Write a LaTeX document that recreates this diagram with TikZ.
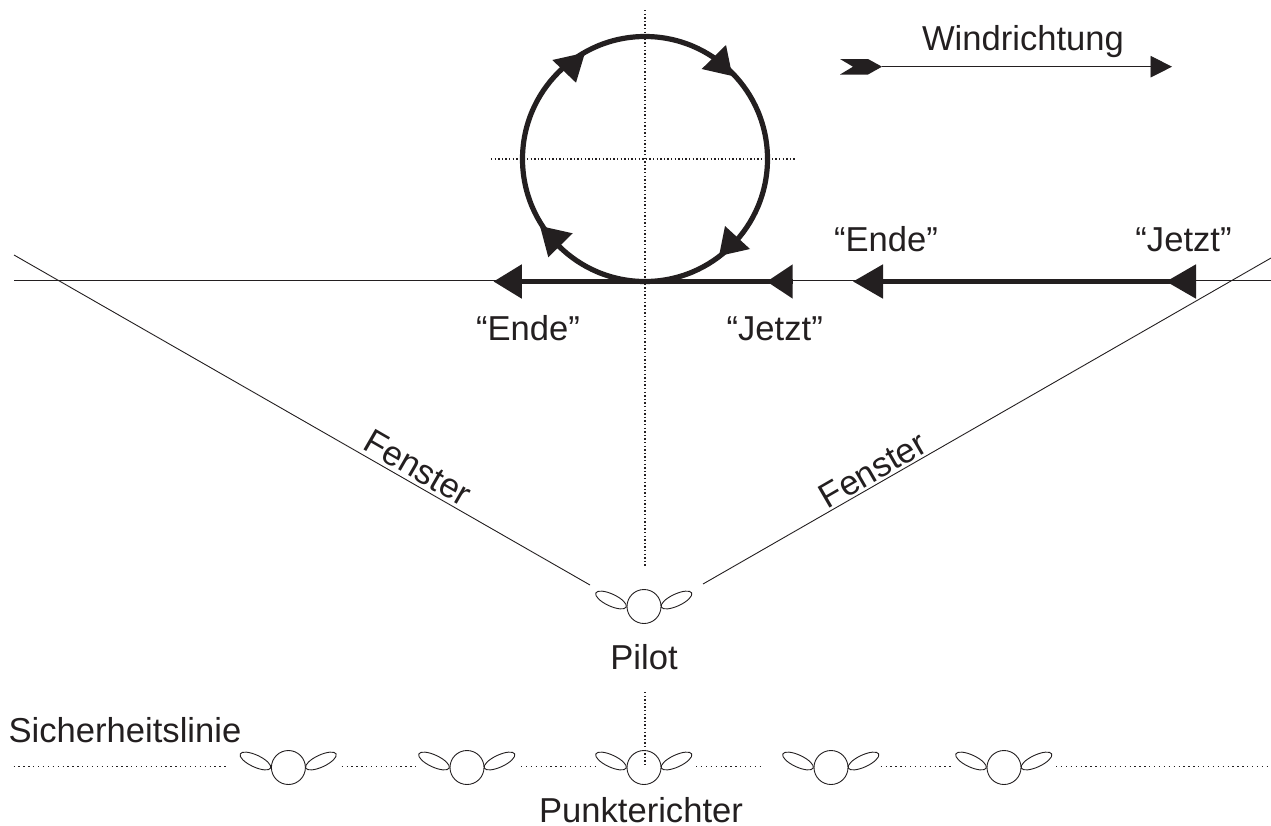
\documentclass[tikz,border=0pt]{standalone}
\usepackage{fontspec}
\setmainfont{Liberation Sans}
\usetikzlibrary{arrows.meta,shapes.geometric}
\definecolor{ink}{HTML}{231F20}
\tikzset{x=1pt,y=-1pt,
  lbl/.style={font=\fontsize{34.6}{40}\selectfont,text=ink,inner sep=0pt,anchor=base},
  thinline/.style={draw=ink,line width=0.9pt},
  dotline/.style={draw=ink,line width=1.1pt,dash pattern=on 1.3pt off 2.3pt},
  sparsedot/.style={draw=ink,line width=1.1pt,dash pattern=on 1.3pt off 3.6pt},
  heavy/.style={draw=ink,line width=5.2pt},
  headfill/.style={fill=ink,draw=none},
  bighead/.style={-{Triangle[length=#1,width=33pt,fill=ink]}},
  petal/.style={draw=ink,line width=0.9pt,fill=white,ellipse,minimum width=33.5pt,minimum height=12pt,inner sep=0pt,outer sep=0pt},
  head/.style={draw=ink,line width=0.9pt,fill=white,circle,minimum size=34pt,inner sep=0pt,outer sep=0pt},
  loopc/.style={draw=ink,line width=5.2pt,circle,minimum size=245pt,inner sep=0pt,outer sep=0pt},
}
\newcommand{\person}[3]{%
  \node[petal,rotate=-25] (#1l) at (#2-33,#3-6.5) {};
  \node[petal,rotate=25] (#1r) at (#2+32.5,#3-6.5) {};
  \node[head] (#1) at (#2,#3) {};
}
\begin{document}
\begin{tikzpicture}
\useasboundingbox (0,0) rectangle (1271,825);
\coordinate (hl) at (14,280.7); \coordinate (hr) at (1271,280.7);
\coordinate (wl) at (14,255); \coordinate (wr) at (1271,258);
\coordinate (vt) at (645,10); \coordinate (vb) at (645,566);
\coordinate (ct) at (491,159); \coordinate (cb) at (796,159);
\coordinate (pt) at (645,692); \coordinate (pb) at (645,766);
\draw[thinline] (hl) -- (hr);
\draw[dotline] (vt) -- (vb);
\draw[dotline] (ct) -- (cb);
\person{pilot}{644}{606.5}
\person{j1}{288.4}{767.5}
\person{j2}{467}{767.5}
\person{j3}{644}{767.5}
\person{j4}{831}{767.5}
\person{j5}{1004}{767.5}
\coordinate (wle) at (590,585); \coordinate (wre) at (703,584);
\draw[thinline] (wl) -- (wle);
\draw[thinline] (wr) -- (wre);
\draw[dotline] (pt) -- (pb);
\coordinate (s0) at (13.5,766.4); \coordinate (s1) at (229,766.4);
\coordinate (s2) at (341.6,766.4); \coordinate (s3) at (416,766.4);
\coordinate (s4) at (521,766.4); \coordinate (s5) at (596,766.4);
\coordinate (s6) at (696,766.4); \coordinate (s7) at (764,766.4);
\coordinate (s8) at (880.6,766.4); \coordinate (s9) at (954,766.4);
\coordinate (s10) at (1056,766.4); \coordinate (s11) at (1271,766.4);
\draw[sparsedot] (s0) -- (s1);
\draw[sparsedot] (s2) -- (s3);
\draw[sparsedot] (s4) -- (s5);
\draw[sparsedot] (s6) -- (s7);
\draw[sparsedot] (s8) -- (s9);
\draw[sparsedot] (s10) -- (s11);
\node[loopc] (loop) at (645,159) {};
\fill[headfill] (552.3,60) -- (585,52.7) -- (576,82.7) -- cycle;
\fill[headfill] (726,45) -- (701.7,69) -- (732.3,76) -- cycle;
\fill[headfill] (725,226) -- (750,249) -- (719,256) -- cycle;
\fill[headfill] (540,226) -- (572.7,233.3) -- (548.3,257.3) -- cycle;
\coordinate (a1s) at (792.7,281.5); \coordinate (a1m) at (766.7,281.5); \coordinate (a1e) at (493.5,281.5);
\coordinate (a2s) at (1196,281.5); \coordinate (a2m) at (1166,281.5); \coordinate (a2e) at (853,281.5);
\draw[heavy,bighead=28.3pt] (a1s) -- (a1e);
\draw[heavy,bighead=26pt] (a1s) -- (a1m);
\draw[heavy,bighead=30pt] (a2s) -- (a2e);
\draw[heavy,bighead=30pt] (a2s) -- (a2m);
\coordinate (w1) at (882,66.7); \coordinate (w2) at (1172,66.7);
\draw[thinline,-{Triangle[length=21.5pt,width=21.6pt,fill=ink]}] (w1) -- (w2);
\fill[headfill] (840,59) -- (868,59) -- (882,66.7) -- (868,74.5) -- (840,74.5) -- (853,66.7) -- cycle;
\node[lbl] (wind) at (1023,50) {Windrichtung};
\node[lbl] (e1) at (528,340) {“Ende”};
\node[lbl] (j1t) at (774.7,340) {“Jetzt”};
\node[lbl] (e2) at (886,251) {“Ende”};
\node[lbl] (j2t) at (1183.5,251) {“Jetzt”};
\node[lbl,rotate=-30] (f1) at (412,478) {Fenster};
\node[lbl,rotate=30] (f2) at (878.5,480) {Fenster};
\node[lbl] (pl) at (644,669) {Pilot};
\node[lbl] (sl) at (125,742) {Sicherheitslinie};
\node[lbl] (pr) at (641,822.5) {Punkterichter};
\end{tikzpicture}
\end{document}
